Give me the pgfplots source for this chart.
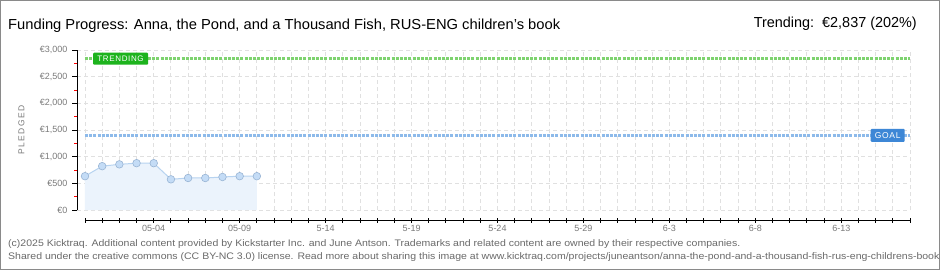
\documentclass[border=0pt]{standalone}
\usepackage{fontspec}
\setmainfont{Liberation Sans}
\usepackage{graphicx}
\usepackage{pgfplots}
\pgfplotsset{compat=1.18}
\definecolor{gridc}{HTML}{E0E0E0}
\definecolor{trendc}{HTML}{7ED36F}
\definecolor{trendbox}{HTML}{1DB31D}
\definecolor{goalc}{HTML}{8DBAEA}
\definecolor{goalbox}{HTML}{3D87D6}
\definecolor{areac}{HTML}{EBF3FC}
\definecolor{linec}{HTML}{B7D3F0}
\definecolor{markc}{HTML}{C4DCF6}
\definecolor{markb}{HTML}{98B4D4}
\definecolor{tickc}{HTML}{7A7A7A}
\definecolor{footc}{HTML}{6A6A6A}
\definecolor{framec}{HTML}{8A8A8A}
\newcommand\footfont{\fontsize{9.5bp}{11bp}\selectfont\color{footc}}
\newlength\fwa
\begin{document}%
\settowidth\fwa{\fontsize{9.5bp}{11bp}\selectfont (c)2025 Kicktraq. Additional content provided by Kickstarter Inc. and June Antson. Trademarks and related content are owned by their respective companies.}%
\pgfmathsetmacro\fsc{734.9/\fwa}%
\begin{tikzpicture}[x=1bp,y=1bp]
\useasboundingbox (0,0) rectangle (940,270);
\fill[white] (0,0) rectangle (940,270);
\node[anchor=base west, inner sep=0] at (8,240.7) {\resizebox{552bp}{\height}{\fontsize{14.5bp}{16bp}\selectfont Funding Progress: Anna, the Pond, and a Thousand Fish, RUS-ENG children's book}};
\node[anchor=base east, inner sep=0] at (917,242.7) {\resizebox{163bp}{\height}{\fontsize{14.5bp}{16bp}\selectfont Trending:\ \ €2,837 (202\%)}};
\node[rotate=90, inner sep=0, text=tickc] at (21.5,140) {\fontsize{8.5bp}{9bp}\selectfont\addfontfeatures{LetterSpace=18}PLEDGED};
\begin{axis}[
  at={(77bp,50bp)}, anchor=south west,
  scale only axis, width=833bp, height=170bp,
  xmin=-0.465, xmax=48, ymin=-187.5, ymax=3000,
  axis line style={draw=none},
  clip=false,
  tick pos=left,
  tick align=outside,
  xtick={0,...,48},
  xticklabels={,,,,05-04,,,,,05-09,,,,,5-14,,,,,5-19,,,,,5-24,,,,,5-29,,,,,6-3,,,,,6-8,,,,,6-13,,,,},
  ytick={0,500,1000,1500,2000,2500,3000},
  yticklabels={€0,€500,{€1,000},{€1,500},{€2,000},{€2,500},{€3,000}},
  minor ytick={250,750,1250,1750,2250,2750},
  major tick length=5bp,
  minor tick length=3bp,
  x tick style={black, line width=0.9bp, yshift=2.5bp},
  y tick style={black, line width=0.9bp},
  minor y tick style={red, line width=0.9bp},
  x tick label style={font=\fontsize{9bp}{9bp}\selectfont, text=tickc, yshift=3bp},
  y tick label style={font=\fontsize{9bp}{9bp}\selectfont, text=tickc, xshift=-1bp},
]
\pgfplotsinvokeforeach{0,...,48}{\draw[gridc, line width=0.9bp, dash pattern=on 4bp off 3bp] (axis cs:#1,0) -- (axis cs:#1,3000);}
\pgfplotsinvokeforeach{0,500,...,3000}{\draw[gridc, line width=0.9bp, dash pattern=on 4bp off 3bp] (axis cs:-0.465,#1) -- (axis cs:48,#1);}
\draw[black, line width=1bp] (axis cs:-0.465,0) -- (axis cs:-0.465,3000);
\draw[black, line width=1bp] (axis cs:0,-187.5) -- (axis cs:48,-187.5);
\addplot[fill=areac, draw=none] coordinates {
(0,634) (1,822) (2,856) (3,878) (4,878) (5,575) (6,600) (7,600) (8,619) (9,634) (10,634)} \closedcycle;
\addplot[goalc, line width=2.5bp, dash pattern=on 3bp off 1.2bp] coordinates {(0,1400) (48,1400)};
\addplot[trendc, line width=2.5bp, dash pattern=on 3bp off 1.2bp] coordinates {(0,2837) (48,2837)};
\addplot[linec, line width=1bp, mark=*, mark size=3.8bp, mark options={fill=markc, draw=markb, line width=0.6bp}] coordinates {
(0,634) (1,822) (2,856) (3,878) (4,878) (5,575) (6,600) (7,600) (8,619) (9,634) (10,634)};
\node[fill=trendbox, text=white, inner sep=0, minimum width=55bp, minimum height=12bp, rounded corners=1bp, font=\fontsize{8bp}{8bp}\selectfont\addfontfeatures{LetterSpace=8}] at (axis cs:2.07,2837) {TRENDING};
\node[fill=goalbox, text=white, inner sep=0, minimum width=34bp, minimum height=13bp, rounded corners=1bp, font=\fontsize{8.5bp}{8.5bp}\selectfont\addfontfeatures{LetterSpace=8}] at (axis cs:46.7,1400) {GOAL};
\end{axis}
\node[anchor=base west, inner sep=0] at (8,24) {\scalebox{\fsc}[1]{\footfont (c)2025 Kicktraq. Additional content provided by Kickstarter Inc. and June Antson. Trademarks and related content are owned by their respective companies.}};
\node[anchor=base west, inner sep=0] at (8,11) {\scalebox{\fsc}[1]{\footfont Shared under the creative commons (CC BY-NC 3.0) license. Read more about sharing this image at www.kicktraq.com/projects/juneantson/anna-the-pond-and-a-thousand-fish-rus-eng-childrens-book}};
\draw[framec, line width=1.2bp] (0.6,0.6) rectangle (939.4,269.4);
\end{tikzpicture}%
\end{document}
